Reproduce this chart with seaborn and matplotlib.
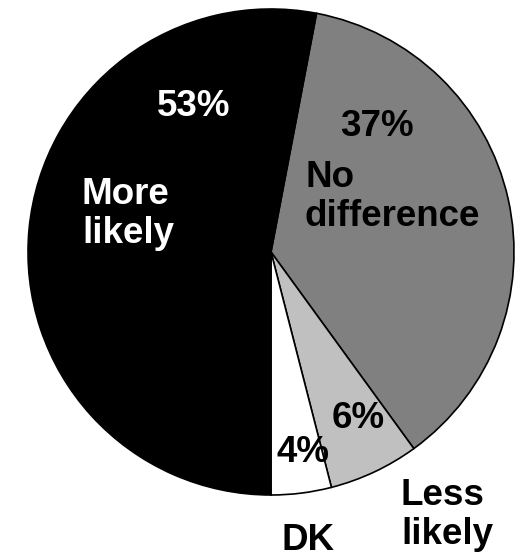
import matplotlib
matplotlib.use("Agg")
import matplotlib.pyplot as plt
import seaborn as sns

sns.set_style("white")
plt.rcParams["font.family"] = ["Liberation Sans", "DejaVu Sans"]

# Survey responses, in clockwise order starting just right of twelve o'clock
categories = ["No\ndifference", "Less\nlikely", "DK", "More\nlikely"]
values = [37, 6, 4, 53]
colors = ["#808080", "#C0C0C0", "#FFFFFF", "#000000"]

W, H = 518, 559
fig = plt.figure(figsize=(W / 100, H / 100), dpi=100)
ax = fig.add_axes([0, 0, 1, 1])

cx, cy, r = 271, H - 252, 243
# the first three slices end exactly at six o'clock
start = -90 + 360 * sum(values[:3]) / sum(values)
ax.pie(values, colors=colors, startangle=start, counterclock=False,
       center=(cx, cy), radius=r, frame=True,
       wedgeprops=dict(edgecolor="black", linewidth=1.2))
ax.set_xlim(0, W)
ax.set_ylim(0, H)
ax.set_aspect("equal")
ax.axis("off")

kw = dict(fontsize=26.5, fontweight="bold", va="center", linespacing=1.15)


def y(py):
    return H - py


# percentage labels
ax.text(377, y(127), f"{values[0]}%", ha="center", color="black", **kw)
ax.text(358, y(418), f"{values[1]}%", ha="center", color="black", **kw)
ax.text(303, y(453), f"{values[2]}%", ha="center", color="black", **kw)
ax.text(194, y(106), f"{values[3]}%", ha="center", color="white", **kw)

# category labels
ax.text(305, y(197), categories[0], ha="left", multialignment="left", color="black", **kw)
ax.text(447, y(515), categories[1], ha="center", multialignment="left", color="black", **kw)
ax.text(308, y(540), categories[2], ha="center", color="black", **kw)
ax.text(82, y(214), categories[3], ha="left", multialignment="left", color="white", **kw)

fig.savefig("out.png", dpi=100)
